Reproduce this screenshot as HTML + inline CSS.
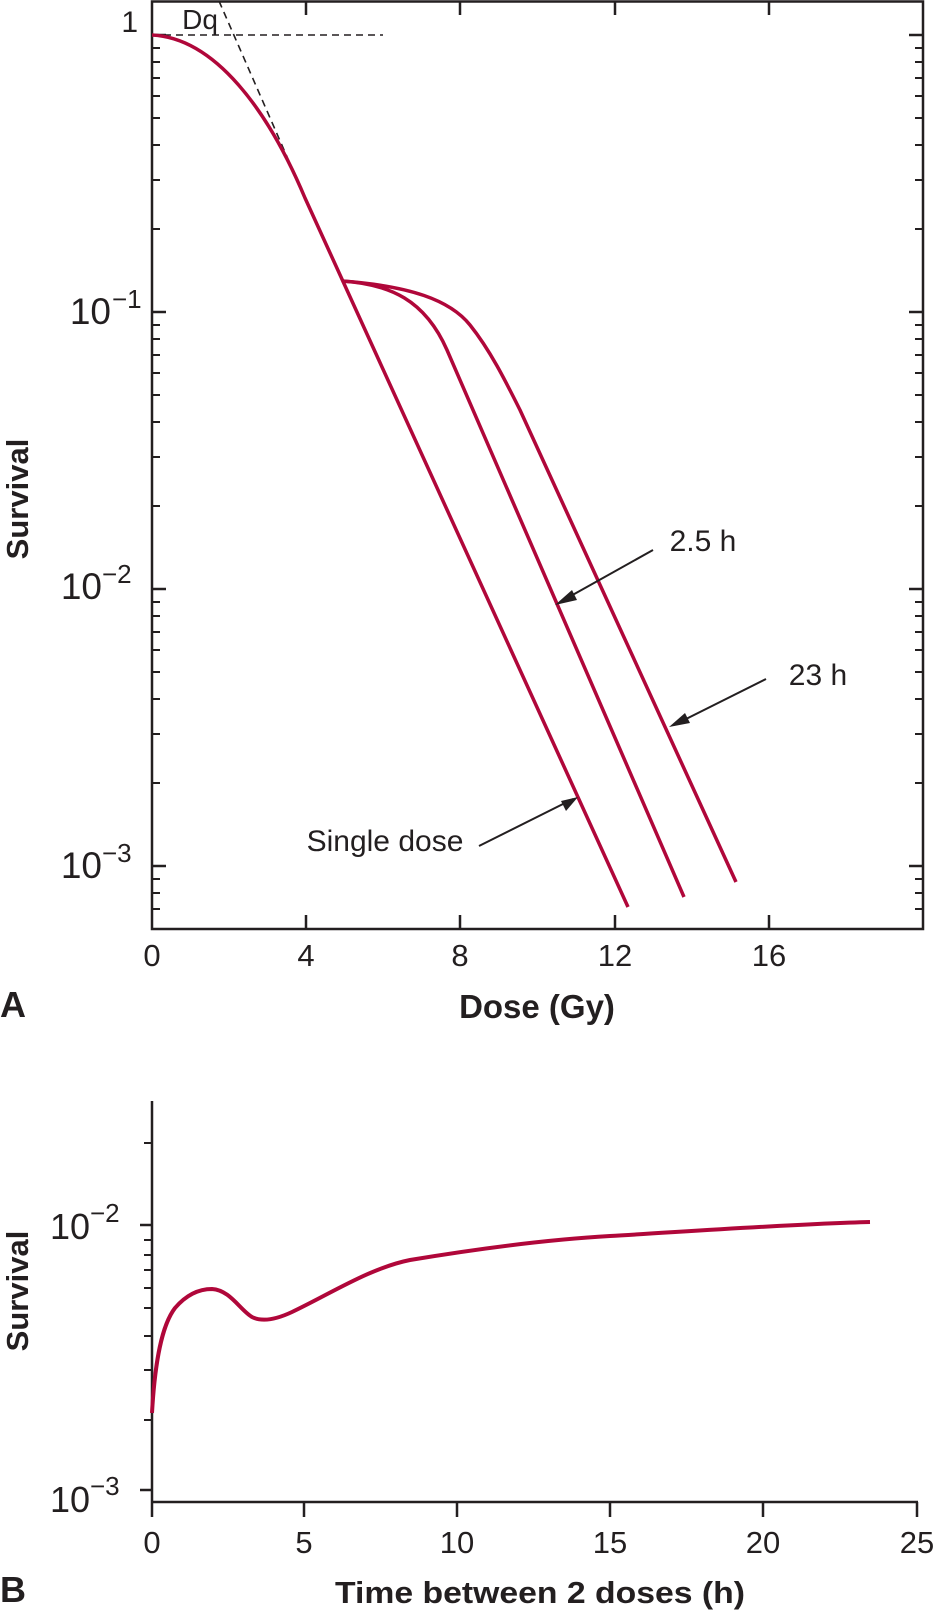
<!DOCTYPE html>
<html><head><meta charset="utf-8"><style>
html,body{margin:0;padding:0;background:#fff;}
svg{display:block;}
text{font-family:"Liberation Sans",Arial,sans-serif;fill:#231f20;}
</style></head><body>
<svg width="934" height="1611" viewBox="0 0 934 1611" xmlns="http://www.w3.org/2000/svg">
<g stroke="#231f20" stroke-width="2.5" fill="none">
  <rect x="152" y="1.5" width="771" height="927.5"/>
  <line x1="152" y1="35" x2="166" y2="35"/>
  <line x1="152" y1="312" x2="166" y2="312"/>
  <line x1="152" y1="589" x2="166" y2="589"/>
  <line x1="152" y1="866" x2="166" y2="866"/>
  <line x1="923" y1="35" x2="909" y2="35"/>
  <line x1="923" y1="312" x2="909" y2="312"/>
  <line x1="923" y1="589" x2="909" y2="589"/>
  <line x1="923" y1="866" x2="909" y2="866"/>
  <line x1="306" y1="929" x2="306" y2="915"/><line x1="460" y1="929" x2="460" y2="915"/>
  <line x1="615" y1="929" x2="615" y2="915"/><line x1="769" y1="929" x2="769" y2="915"/>
  <line x1="306" y1="1" x2="306" y2="15"/><line x1="460" y1="1" x2="460" y2="15"/>
  <line x1="615" y1="1" x2="615" y2="15"/><line x1="769" y1="1" x2="769" y2="15"/>
</g>
<g stroke="#231f20" stroke-width="2" fill="none">
  <path d="M152 48h8M152 62h8M152 78h8M152 96h8M152 118h8M152 145h8M152 180h8M152 229h8
           M152 325h8M152 339h8M152 355h8M152 373h8M152 395h8M152 422h8M152 457h8M152 506h8
           M152 602h8M152 616h8M152 632h8M152 650h8M152 672h8M152 699h8M152 734h8M152 783h8
           M152 879h8M152 893h8M152 909h8"/>
  <path d="M923 48h-8M923 62h-8M923 78h-8M923 96h-8M923 118h-8M923 145h-8M923 180h-8M923 229h-8
           M923 325h-8M923 339h-8M923 355h-8M923 373h-8M923 395h-8M923 422h-8M923 457h-8M923 506h-8
           M923 602h-8M923 616h-8M923 632h-8M923 650h-8M923 672h-8M923 699h-8M923 734h-8M923 783h-8
           M923 879h-8M923 893h-8M923 909h-8"/>
</g>
<g stroke="#231f20" stroke-width="1.6" stroke-dasharray="7,5" fill="none">
  <line x1="152" y1="35" x2="383" y2="35"/>
  <line x1="219" y1="1" x2="305" y2="198"/>
</g>
<text x="200" y="29" font-size="28" text-anchor="middle">Dq</text>
<g stroke="#b0073a" stroke-width="3.5" fill="none" stroke-linejoin="round">
  <path d="M152 35 C215 38 268 110 305 198 L628 907"/>
  <path d="M342 281 C390 284 425 300 447 350 L684 897"/>
  <path d="M342 281 C410 286 450 300 470 325 C490 350 505 380 520 410 L736 882"/>
</g>
<g stroke="#231f20" stroke-width="2" fill="#231f20">
  <line x1="653" y1="550" x2="560" y2="602"/>
  <polygon points="555,605 572,590 577,600" stroke="none"/>
  <line x1="766" y1="679" x2="674" y2="725"/>
  <polygon points="669,727 685,713 690,723" stroke="none"/>
  <line x1="479" y1="846" x2="573" y2="799"/>
  <polygon points="578,797 566,811 561,801" stroke="none"/>
</g>
<text x="703" y="551" font-size="30" text-anchor="middle">2.5 h</text>
<text x="818" y="685" font-size="30" text-anchor="middle">23 h</text>
<text x="385" y="851" font-size="30" text-anchor="middle">Single dose</text>
<text x="138" y="32" font-size="30" text-anchor="end">1</text>
<text x="111" y="324" font-size="37" text-anchor="end">10</text><text x="112" y="308" font-size="26">−1</text>
<text x="102" y="599" font-size="37" text-anchor="end">10</text><text x="102" y="583" font-size="26">−2</text>
<text x="102" y="878" font-size="37" text-anchor="end">10</text><text x="102" y="862" font-size="26">−3</text>
<g font-size="31" text-anchor="middle">
<text x="152" y="966">0</text><text x="306" y="966">4</text><text x="460" y="966">8</text><text x="615" y="966">12</text><text x="769" y="966">16</text>
</g>
<text x="0" y="1017" font-size="36" font-weight="bold">A</text>
<text x="537" y="1018" font-size="33" font-weight="bold" text-anchor="middle">Dose (Gy)</text>
<text transform="translate(28,499) rotate(-90)" font-size="31" font-weight="bold" text-anchor="middle">Survival</text>

<g stroke="#231f20" stroke-width="2.5" fill="none">
  <line x1="152" y1="1101" x2="152" y2="1517"/>
  <line x1="152" y1="1502" x2="918" y2="1502"/>
  <path d="M304 1502v15M457 1502v15M610 1502v15M763 1502v15M917 1502v15"/>
  <path d="M140 1225h12M140 1490h12"/>
</g>
<g stroke="#231f20" stroke-width="2" fill="none">
  <path d="M144 1143h8M144 1240h8M144 1255h8M144 1270h8M144 1288h8M144 1308h8M144 1336h8M144 1370h8M144 1420h8"/>
</g>
<path d="M152 1413 C155 1360 162 1325 175 1308 C187 1294 200 1289 212 1289 C230 1290 240 1310 252 1317 C262 1322 275 1320 292 1312 C330 1294 370 1268 410 1260 C470 1250 540 1240 610 1236 S 790 1224 870 1222"
  stroke="#b0073a" stroke-width="4" fill="none"/>
<text x="90" y="1239" font-size="36" text-anchor="end">10</text><text x="90" y="1222" font-size="26">−2</text>
<text x="90" y="1512" font-size="36" text-anchor="end">10</text><text x="90" y="1495" font-size="26">−3</text>
<g font-size="31" text-anchor="middle">
<text x="152" y="1553">0</text><text x="304" y="1553">5</text><text x="457" y="1553">10</text><text x="610" y="1553">15</text><text x="763" y="1553">20</text><text x="917" y="1553">25</text>
</g>
<text x="0" y="1602" font-size="36" font-weight="bold">B</text>
<text x="335" y="1603" font-size="31" font-weight="bold" textLength="410" lengthAdjust="spacingAndGlyphs">Time between 2 doses (h)</text>
<text transform="translate(28,1291) rotate(-90)" font-size="31" font-weight="bold" text-anchor="middle">Survival</text>
</svg>
</body></html>
